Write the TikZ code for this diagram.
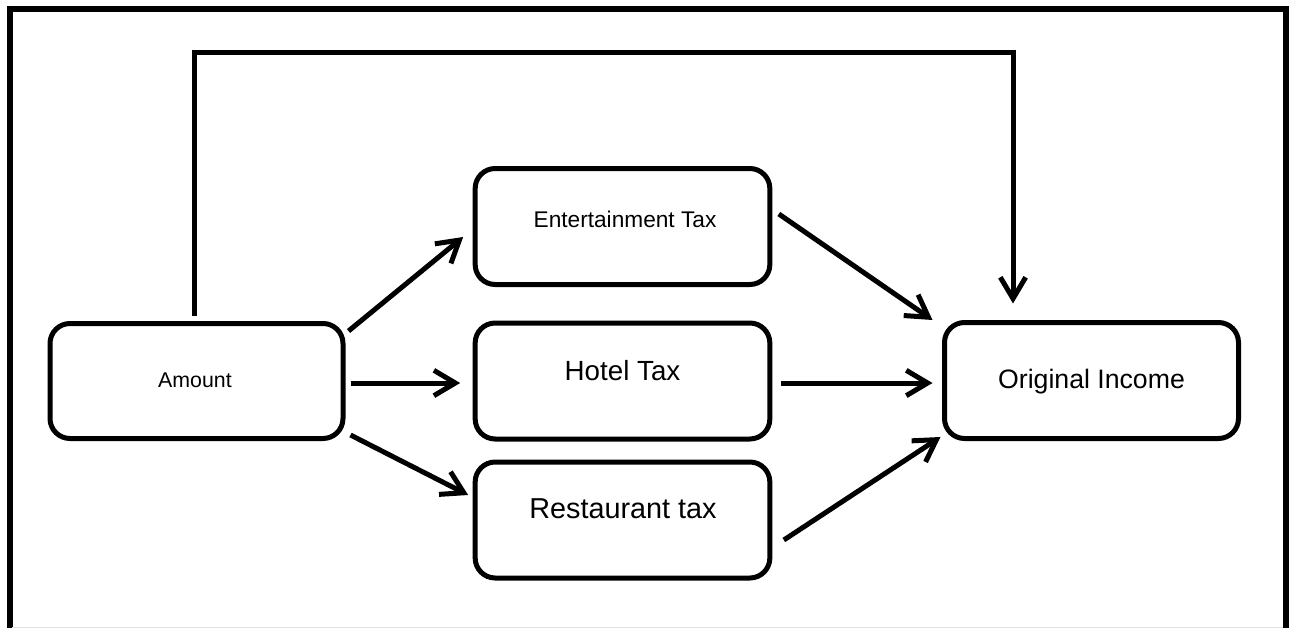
\documentclass[tikz,border=0pt]{standalone}
\usepackage{fontspec}
\setmainfont{Liberation Sans}
\usetikzlibrary{arrows.meta}
\begin{document}
\begin{tikzpicture}[x=0.75pt,y=-0.75pt,
  box/.style={draw, line width=3.75pt, rounded corners=15pt, inner sep=0pt,
    minimum width=221pt, minimum height=87pt},
  conn/.style={line width=3.75pt, -{Straight Barb[length=16pt,width=19pt]}},
  lbl/.style={anchor=base, inner sep=0pt}]
\useasboundingbox (0,0) rectangle (1289,628);
\clip (0,0) rectangle (1289,628);
% frame
\draw[line width=4.5pt] (9.5,660) -- (9.5,9) -- (1286,9) -- (1286,660);
\draw[black!12, line width=0.75pt] (12,627.5) -- (1283,627.5);
% boxes
\node[box, minimum width=219.75pt, minimum height=86.25pt] (A) at (196.5,381) {};
\node[box] (E) at (622.5,226.5) {};
\node[box] (H) at (622.5,381) {};
\node[box] (R) at (622.5,520) {};
\node[box, minimum width=220.5pt] (O) at (1091.5,380.5) {};
% labels
\node[lbl, font=\fontsize{16}{19}\selectfont] (tA) at (195,387) {Amount};
\node[lbl, font=\fontsize{17}{20}\selectfont] (tE) at (625,227) {Entertainment Tax};
\node[lbl, font=\fontsize{20.8}{24}\selectfont] (tH) at (622.5,380) {Hotel Tax};
\node[lbl, font=\fontsize{21.6}{25}\selectfont] (tR) at (623,518) {Restaurant tax};
\node[lbl, font=\fontsize{20}{23}\selectfont] (tO) at (1091.5,388) {Original Income};
% connectors
\draw[conn] ([shift={(3,-50)}]A.east) -- ([shift={(-9.5,10.5)}]E.west);
\draw[conn] ([shift={(5,2)}]A.east) -- ([shift={(-12.5,2)}]H.west);
\draw[conn] ([shift={(5,54)}]A.east) -- ([shift={(-4.5,-25)}]R.west);
\draw[conn] ([shift={(6.5,-12.5)}]E.east) -- ([shift={(-9.5,-60.5)}]O.west);
\draw[conn] ([shift={(8.5,2)}]H.east) -- ([shift={(-9.5,2.5)}]O.west);
\draw[conn] ([shift={(11.5,20)}]R.east) -- ([shift={(-1.5,56.5)}]O.west);
\coordinate (tr) at (1013,52);
\draw[conn, line join=miter] ([shift={(-2.5,-5.5)}]A.north) |- (tr) -- ([shift={(-78.5,-16.5)}]O.north);
\end{tikzpicture}
\end{document}
